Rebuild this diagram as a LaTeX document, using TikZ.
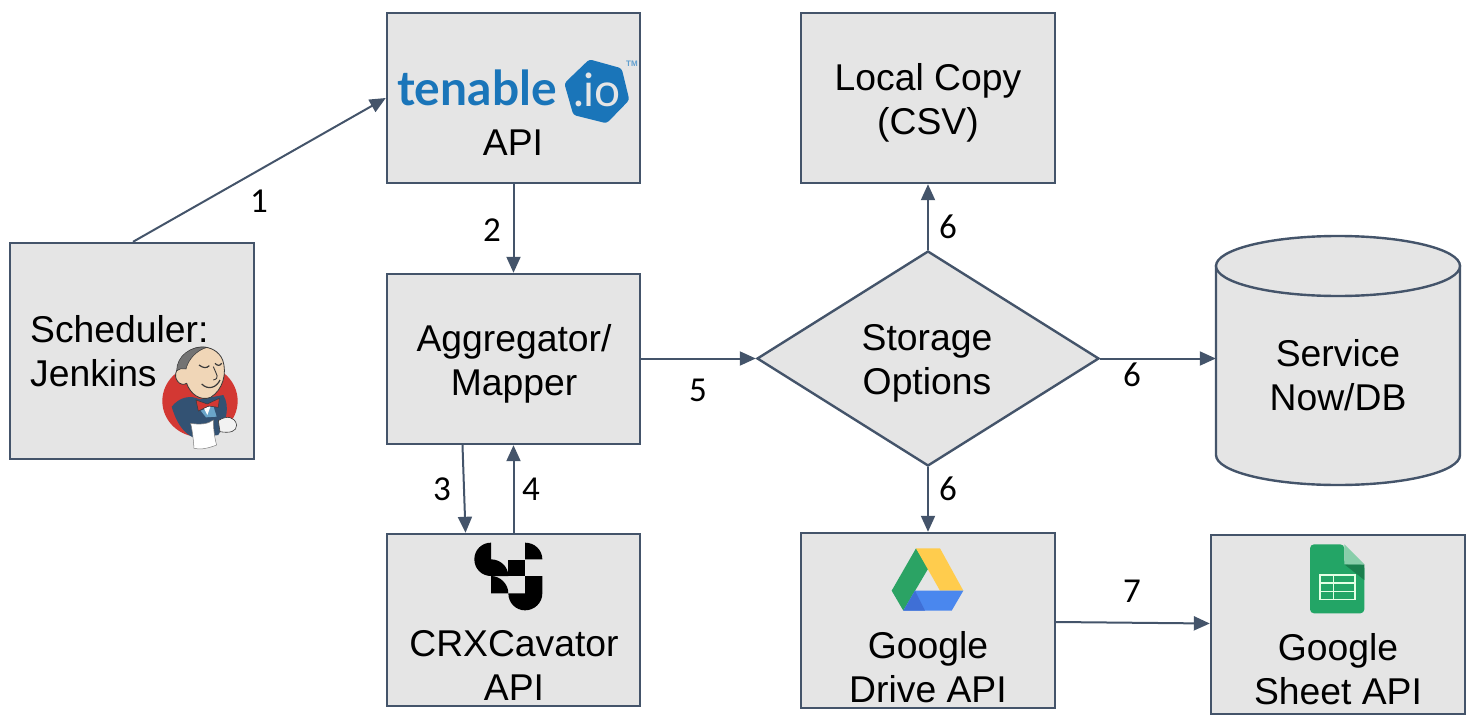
\documentclass[tikz,border=0pt]{standalone}
\usepackage{fontspec}
\setmainfont{Liberation Sans}
\newfontfamily\numfont{Carlito}
\newfontfamily\logofont{Lato}
\usetikzlibrary{shapes.geometric,arrows.meta}
\definecolor{edge}{HTML}{44546A}
\definecolor{boxfill}{HTML}{E5E5E5}
\definecolor{tenblue}{HTML}{1A75B9}
\definecolor{jred}{HTML}{D33833}
\definecolor{jnavy}{HTML}{335273}
\definecolor{jskin}{HTML}{F0D6B7}
\definecolor{jline}{HTML}{3A3A3A}
\definecolor{jshirt}{HTML}{6AA5C9}
\definecolor{dgreen}{HTML}{2BA364}
\definecolor{dyellow}{HTML}{FFCC4D}
\definecolor{dblue}{HTML}{4A87EE}
\definecolor{ddark}{HTML}{3F6FD6}
\definecolor{sgreen}{HTML}{23A566}
\definecolor{slight}{HTML}{88CEAA}
\definecolor{sdark}{HTML}{1A7F4E}
\tikzset{
  x=1pt,y=-1pt,
  boxbase/.style={draw=edge,line width=2.4pt,fill=boxfill,inner sep=0pt},
  stepbox/.style={boxbase,rectangle,minimum width=#1},
  txt/.style={font=\fontsize{37.3}{44}\selectfont,text=black,align=center,inner sep=0pt},
  num/.style={font=\numfont\fontsize{35}{40}\selectfont,text=black,inner sep=0pt},
  conn/.style={draw=edge,line width=2pt,-{Triangle[length=16pt,width=14pt]}},
  zoomed/.style={x=0.33333pt,y=-0.33333pt},
}
\begin{document}
\begin{tikzpicture}
\useasboundingbox (0,0) rectangle (1475,728);
% boxes
\node[stepbox=244pt,minimum height=216pt] (sched) at (132,351) {};
\node[stepbox=253pt,minimum height=170pt] (ten) at (513.5,98) {};
\node[stepbox=253pt,minimum height=170pt] (agg) at (513.5,359) {};
\node[stepbox=253pt,minimum height=172pt] (crx) at (513.5,620) {};
\node[stepbox=254pt,minimum height=170pt] (loc) at (928,98) {};
\node[boxbase,diamond,minimum width=342pt,minimum height=215pt,aspect=1.59] (dia) at (928,358.5) {};
% cylinder
\node[rectangle,inner sep=0pt,minimum width=244pt,minimum height=249pt] (db) at (1338,360.5) {};
\filldraw[draw=edge,fill=boxfill,line width=2.4pt] (1216,266) -- (1216,455) .. controls (1216,471.6) and (1270.6,485) .. (1338,485) .. controls (1405.4,485) and (1460,471.6) .. (1460,455) -- (1460,266) -- cycle;
\filldraw[draw=edge,fill=boxfill,line width=2.4pt] (1338,266) ellipse [x radius=122,y radius=30];
\node[stepbox=254pt,minimum height=175pt] (drv) at (928,620.5) {};
\node[stepbox=254pt,minimum height=179pt] (sht) at (1338,624.5) {};
% box texts
\node[txt,anchor=base west] (t1) at (30,342) {Scheduler:};
\node[txt,anchor=base west] (t2) at (30,386) {Jenkins};
\node[txt] (t3) at (513,143) {API};
\node[txt] (t8) at (514,363.5) {Aggregator/\\Mapper};
\node[txt] (t9) at (928,102.5) {Local Copy\\(CSV)};
\node[txt] (t10) at (927,363.5) {Storage\\Options};
\node[txt] (t4) at (514,665) {CRXCavator\\API};
\node[txt] (t5) at (1338,375) {Service\\Now/DB};
\node[txt] (t6) at (928,667) {Google\\Drive API};
\node[txt] (t7) at (1338,669) {Google\\Sheet API};
% connectors
\draw[conn] ([xshift=1pt]sched.north) -- (ten.west);
\draw[conn] (ten.south) -- (agg.north);
\draw[conn] ([xshift=-51pt]agg.south) -- ([xshift=-48pt]crx.north);
\draw[conn] (crx.north) -- (agg.south);
\draw[conn] (agg.east |- dia.west) -- (dia.west);
\draw[conn] (dia.north) -- (loc.south);
\draw[conn] (dia.east) -- (db.west |- dia.east);
\draw[conn] (dia.south) -- (drv.north);
\draw[conn] ([yshift=-1.5pt]drv.east) -- ([yshift=1pt]sht.west);
% labels
\node[num] (n1) at (259,201) {1};
\node[num] (n2) at (492,230) {2};
\node[num] (n3) at (442,489) {3};
\node[num] (n4) at (531,489) {4};
\node[num] (n5) at (698,390) {5};
\node[num] (n6a) at (948,227) {6};
\node[num] (n6b) at (1132,375) {6};
\node[num] (n6c) at (948,489) {6};
\node[num] (n7) at (1132,591) {7};
% tenable logo
\node[anchor=base west,inner sep=0pt,text=tenblue,font=\logofont\bfseries\fontsize{48}{48}\selectfont] (tl) at (397,105) {tenable};
\begin{scope}[shift={(380,0)},zoomed]
\fill[tenblue,rounded corners=3pt] (628,178)--(725,205)--(748,300)--(680,370)--(580,345)--(553,250)--cycle;
\end{scope}
\node[anchor=base,inner sep=0pt,text=boxfill,font=\logofont\fontsize{46}{46}\selectfont] (tio) at (597,106) {.io};
\node[inner sep=0pt,text=tenblue!70,font=\bfseries\fontsize{8}{8}\selectfont] (ttm) at (632,64) {TM};
% jenkins logo
\begin{scope}[shift={(0,300)},zoomed]
\fill[jred] (600,303) ellipse [x radius=113,y radius=108];
% body
\fill[jnavy] (515,320) .. controls (540,290) and (570,285) .. (600,298) -- (670,285) .. controls (690,320) and (680,360) .. (655,405) -- (585,415) .. controls (550,400) and (530,370) .. (515,320) -- cycle;
% shirt
\fill[jshirt] (602,332) -- (640,318) -- (650,350) -- (618,352) -- cycle;
\fill[white] (612,325) -- (632,318) -- (622,345) -- cycle;
% head
\fill[jskin,draw=jline,line width=0.8pt] (545,185) .. controls (560,130) and (645,125) .. (668,180) .. controls (682,220) and (668,270) .. (632,292) .. controls (600,305) and (570,280) .. (560,250) .. controls (540,262) and (518,235) .. (530,212) .. controls (535,205) and (545,210) .. (545,185) -- cycle;
% hair
\fill[black!55,draw=jline,line width=0.5pt] (530,212) .. controls (530,170) and (570,135) .. (622,142) .. controls (590,150) and (565,178) .. (558,207) .. controls (548,205) and (538,205) .. (530,212) -- cycle;
% face
\draw[jline,line width=1.2pt] (597,195) .. controls (610,205) and (620,205) .. (628,197);
\draw[jline,line width=1.2pt] (645,190) .. controls (652,198) and (660,198) .. (665,190);
\draw[jline,line width=1.2pt] (605,252) .. controls (625,272) and (650,262) .. (660,240);
\draw[jline,line width=0.9pt] (640,200) .. controls (650,225) and (660,235) .. (640,240);
% bow tie
\fill[jred,draw=jline,line width=0.5pt] (588,300) -- (622,312) -- (658,295) -- (655,322) -- (626,318) -- (595,333) -- cycle;
% hand
\fill[white!95!black,draw=jline,line width=0.6pt] (655,362) .. controls (680,345) and (705,350) .. (710,375) .. controls (710,395) and (690,400) .. (660,395) -- cycle;
% napkin
\fill[white,draw=black!50,line width=0.5pt] (572,370) .. controls (600,375) and (625,372) .. (640,360) .. controls (640,390) and (645,420) .. (650,435) .. controls (625,445) and (600,450) .. (582,445) .. controls (580,420) and (578,395) .. (572,370) -- cycle;
\end{scope}
% crxcavator logo
\begin{scope}[shift={(380,430)},zoomed]
\fill[black] (333,338) .. controls (305,338) and (283,360) .. (283,388) .. controls (283,416) and (305,438) .. (333,438) -- (385,438) .. controls (385,410) and (361,388) .. (333,388) -- cycle;
\fill[black] (385,390) rectangle (435,438);
\fill[black] (435,338) .. controls (464,338) and (487,360) .. (487,388) -- (435,388) -- cycle;
\fill[black] (333,438) .. controls (361,438) and (385,462) .. (385,490) -- (333,490) -- cycle;
\fill[black] (435,438) -- (487,438) -- (487,490) .. controls (487,518) and (464,541) .. (435,541) .. controls (407,541) and (385,518) .. (385,490) -- (435,490) -- cycle;
\end{scope}
% drive logo
\begin{scope}[shift={(860,530)},zoomed]
\fill[dgreen] (168,55) -- (205,115) -- (130,242) -- (95,182) -- cycle;
\fill[dyellow] (168,55) -- (240,55) -- (310,182) -- (240,182) -- cycle;
\fill[dblue] (165,182) -- (310,182) -- (275,242) -- (130,242) -- cycle;
\fill[ddark] (165,182) -- (195,242) -- (130,242) -- cycle;
\end{scope}
% sheets logo
\begin{scope}[shift={(1280,530)},zoomed]
\fill[sgreen,rounded corners=4pt] (90,43) -- (193,43) -- (193,103) -- (253,103) -- (253,250) -- (90,250) -- cycle;
\fill[sdark] (193,103) -- (253,103) -- (253,150) -- cycle;
\fill[slight] (193,43) -- (253,103) -- (193,103) -- cycle;
\draw[white!90!green,line width=1.6pt] (120,135) rectangle (225,208);
\draw[white!90!green,line width=1.6pt] (160,135) -- (160,208) (120,159) -- (225,159) (120,184) -- (225,184);
\end{scope}
\end{tikzpicture}
\end{document}
